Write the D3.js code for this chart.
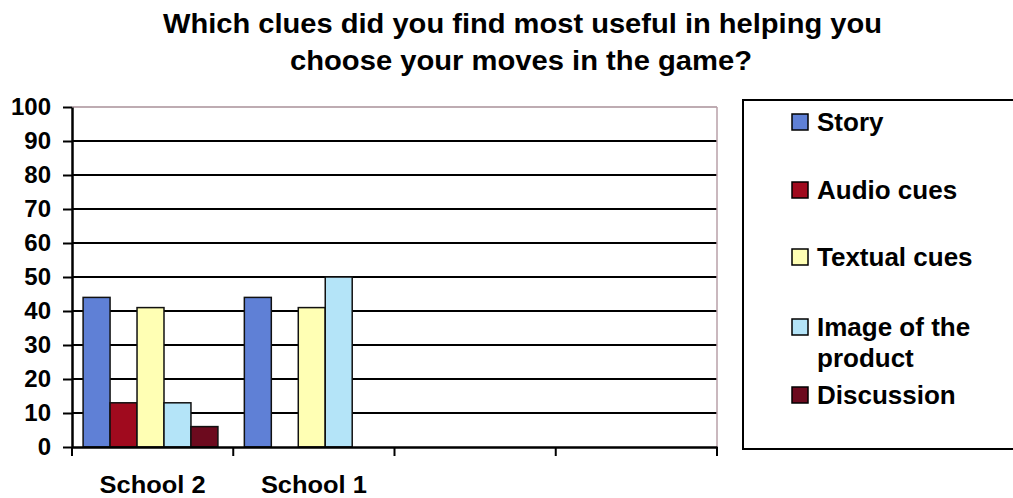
<!DOCTYPE html>
<html>
<head>
<meta charset="utf-8">
<script src="https://cdn.jsdelivr.net/npm/d3@7"></script>
<style>
  html, body { margin: 0; padding: 0; background: #ffffff; }
  svg { display: block; font-family: "Liberation Sans", Arial, sans-serif; }
</style>
</head>
<body>
<svg id="chart" width="1013" height="498"></svg>
<script>
// ---- data ----
const categories = ["School 2", "School 1", "", ""];
const seriesNames = ["Story", "Audio cues", "Textual cues", "Image of the product", "Discussion"];
const story      = [44, 44, null, null];
const audioCues  = [13, 0, null, null];
const textualCues = [41, 41, null, null];
const imageOfProduct = [13, 50, null, null];
const discussion = [6, 0, null, null];
const yTicks = [0, 10, 20, 30, 40, 50, 60, 70, 80, 90, 100];
const titleLines = ["Which clues did you find most useful in helping you", "choose your moves in the game?"];
const legendLines = [["Story"], ["Audio cues"], ["Textual cues"], ["Image of the", "product"], ["Discussion"]];

const seriesValues = [story, audioCues, textualCues, imageOfProduct, discussion];
const colors = ["#5f80d6", "#a00a1e", "#ffffb4", "#b4e4f8", "#6c0a1e"];

const svg = d3.select("#chart");
const pLeft = 72, pRight = 717, pTop = 107, pBottom = 447;

const x = d3.scaleBand().domain(d3.range(categories.length)).range([pLeft, pRight]).padding(0);
const xs = d3.scaleBand().domain(d3.range(seriesNames.length)).range([0, x.bandwidth()])
  .paddingInner(0).paddingOuter(0.49).align(0.42);
const y = d3.scaleLinear().domain([0, 100]).range([pBottom, pTop]);

// title
svg.selectAll("text.title").data(titleLines).join("text")
  .attr("class", "title")
  .attr("x", (d, i) => i === 0 ? 522.5 : 521)
  .attr("y", (d, i) => i === 0 ? 33 : 70)
  .attr("text-anchor", "middle")
  .attr("font-size", 27).attr("font-weight", "bold").attr("fill", "#000")
  .attr("textLength", (d, i) => i === 0 ? 719 : 462)
  .attr("lengthAdjust", "spacingAndGlyphs")
  .text(d => d);

// gridlines
svg.append("g").selectAll("line").data(yTicks.filter(t => t > 0 && t < 100)).join("line")
  .attr("x1", pLeft).attr("x2", pRight)
  .attr("y1", d => y(d)).attr("y2", d => y(d))
  .attr("stroke", "#000").attr("stroke-width", 2);

// plot area border (top & right)
svg.append("line").attr("x1", pLeft).attr("x2", pRight).attr("y1", y(100)).attr("y2", y(100))
  .attr("stroke", "#a89098").attr("stroke-width", 1.5);
svg.append("line").attr("x1", pRight).attr("x2", pRight).attr("y1", y(100)).attr("y2", y(0))
  .attr("stroke", "#b8a0a8").attr("stroke-width", 1.5);

// bars
const groups = svg.append("g").selectAll("g").data(categories.map((c, i) => i)).join("g")
  .attr("transform", d => `translate(${x(d)},0)`);
groups.selectAll("rect")
  .data(ci => seriesValues.map((vals, si) => ({ si, v: vals[ci] })).filter(d => d.v != null && d.v > 0))
  .join("rect")
  .attr("x", d => xs(d.si))
  .attr("width", xs.bandwidth())
  .attr("y", d => y(d.v))
  .attr("height", d => y(0) - y(d.v))
  .attr("fill", d => colors[d.si])
  .attr("stroke", "#111").attr("stroke-width", 1.5);

// y axis
const yAxis = svg.append("g").attr("transform", `translate(${pLeft},0)`)
  .call(d3.axisLeft(y).tickValues(yTicks).tickSize(9).tickPadding(12).tickSizeOuter(0));
yAxis.select(".domain").attr("stroke", "#000").attr("stroke-width", 2.5);
yAxis.selectAll(".tick line").attr("stroke", "#000").attr("stroke-width", 2);
yAxis.selectAll(".tick text").attr("font-size", 24).attr("font-weight", "bold")
  .attr("fill", "#000").attr("font-family", "Liberation Sans, Arial, sans-serif");

// x axis
const xAxis = svg.append("g").attr("transform", `translate(0,${pBottom})`)
  .call(d3.axisBottom(x).tickFormat(i => categories[i]).tickSize(0).tickPadding(29));
xAxis.select(".domain").attr("stroke", "#000").attr("stroke-width", 2.5);
xAxis.selectAll(".tick text").attr("font-size", 24).attr("font-weight", "bold")
  .attr("fill", "#000").attr("font-family", "Liberation Sans, Arial, sans-serif")
  .attr("textLength", d => categories[d] ? 106 : null)
  .attr("lengthAdjust", "spacingAndGlyphs");
// boundary ticks between categories
const boundaries = d3.range(categories.length + 1).map(i => i < categories.length ? x(i) : pRight);
xAxis.selectAll("line.bound").data(boundaries).join("line").attr("class", "bound")
  .attr("x1", d => d).attr("x2", d => d).attr("y1", 0).attr("y2", 9)
  .attr("stroke", "#000").attr("stroke-width", 2);

// legend
const lg = svg.append("g");
lg.append("rect").attr("x", 743).attr("y", 100).attr("width", 300).attr("height", 349)
  .attr("fill", "#fff").attr("stroke", "#000").attr("stroke-width", 2);
const itemY = [122, 190, 257, 327, 395];
const items = lg.selectAll("g.item").data(seriesNames).join("g").attr("class", "item")
  .attr("transform", (d, i) => `translate(0,${itemY[i]})`);
items.append("rect").attr("x", 792).attr("y", -8).attr("width", 16).attr("height", 16)
  .attr("fill", (d, i) => colors[i]).attr("stroke", "#000").attr("stroke-width", 1.5);
items.append("text").attr("x", 817).attr("y", 9)
  .attr("font-size", 26).attr("font-weight", "bold").attr("fill", "#000")
  .selectAll("tspan").data((d, i) => legendLines[i]).join("tspan")
  .attr("x", 817).attr("dy", (d, j) => j === 0 ? 0 : 31)
  .text(d => d);
</script>
</body>
</html>
